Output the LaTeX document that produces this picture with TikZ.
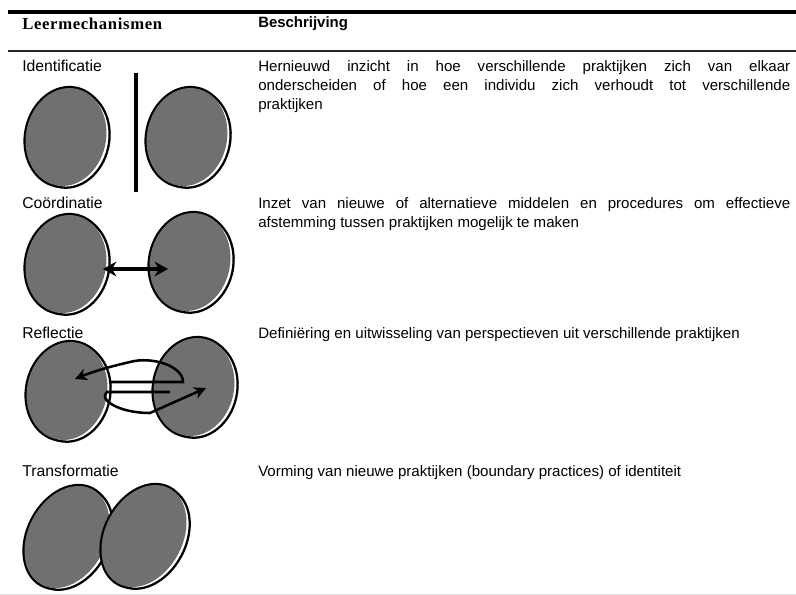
\documentclass[tikz,border=0pt]{standalone}
\usepackage{fontspec}
\setmainfont{Liberation Sans}
\newfontfamily\headfont[LetterSpace=4]{Liberation Serif}
\usepackage{tikz}
\usetikzlibrary{arrows.meta,shapes.geometric}
\definecolor{discgray}{RGB}{112,112,112}
\tikzset{
  disc/.style={ellipse, fill=discgray, inner sep=0pt,
    minimum width=60pt, minimum height=74pt, rotate=-12,
    preaction={draw=black, line width=3.2pt},
    preaction={draw=black, fill=white, line width=1.7pt, transform canvas={xshift=2.4pt,yshift=-1.3pt}}},
  talldisc/.style={disc, minimum width=58pt, minimum height=81pt, rotate=-16},
  lbl/.style={anchor=base west, inner sep=0pt, font=\fontsize{11.8}{13.9}\selectfont},
  desc/.style={anchor=base west, inner sep=0pt, font=\fontsize{11.3}{13.9}\selectfont,
    text width=399pt, align=justify},
  twoway/.style={line width=2.6pt, {Stealth[length=10pt,width=11pt]}-{Stealth[length=10pt,width=11pt]}},
  swirl/.style={line width=1.9pt, -{Stealth[length=9pt,width=9pt]}}
}

\begin{document}
\begin{tikzpicture}[x=0.75pt,y=-0.75pt]
  \useasboundingbox (0,0) rectangle (796,595);
  % table rules
  \draw[line width=2.3pt] (8,12) -- (796,12);
  \draw[line width=1.4pt, black!85] (8,51) -- (796,51);
  \draw[line width=0.8pt, black!12] (0,594.5) -- (796,594.5);

  % header
  \node[anchor=base west, inner sep=0pt, font=\headfont\bfseries\fontsize{12.5}{14}\selectfont] (hmech) at (22,30) {Leermechanismen};
  \node[anchor=base west, inner sep=0pt, font=\bfseries\fontsize{11.2}{13}\selectfont] (hdesc) at (258,28) {Beschrijving};

  % identificatie
  \node[lbl] (lid) at (22,72) {Identificatie};
  \node[desc] (did) at (258,72) {Hernieuwd inzicht in hoe verschillende praktijken zich van elkaar\linebreak
    onderscheiden of hoe een individu zich verhoudt tot verschillende\linebreak praktijken};
  \node[disc] (id1) at (66,137) {};
  \node[disc] (id2) at (187,137) {};
  \coordinate (bartop) at (136,73);
  \coordinate (barbot) at (136,192);
  \draw[line width=3pt] (bartop) -- (barbot);

  % coordinatie
  \node[lbl] (lco) at (22,209) {Co\"ordinatie};
  \node[desc] (dco) at (258,209) {Inzet van nieuwe of alternatieve middelen en procedures om effectieve\linebreak
    afstemming tussen praktijken mogelijk te maken};
  \node[disc] (co1) at (66,264) {};
  \node[disc] (co2) at (190,262) {};
  \coordinate (cleft) at (103,269);
  \coordinate (cright) at (168,269);
  \draw[twoway] (cleft) -- (cright);

  % reflectie
  \node[lbl] (lre) at (22,339) {Reflectie};
  \node[desc] (dre) at (258,339) {Defini\"ering en uitwisseling van perspectieven uit verschillende praktijken};
  \node[disc] (re1) at (67,391) {};
  \node[disc] (re2) at (194,387) {};
  \coordinate (ra) at (110,382);
  \coordinate (rb) at (183,382);
  \coordinate (rc) at (75,379);
  \coordinate (rd) at (170,392);
  \coordinate (re) at (107,392);
  \coordinate (rf) at (206,388);
  \draw[swirl] (ra) -- (rb) .. controls (183,366) and (152,356) .. (130,362)
    .. controls (108,367) and (92,372) .. (rc);
  \draw[swirl] (rd) -- (re) .. controls (98,399) and (118,413) .. (150,413) -- (rf);

  % transformatie
  \node[lbl] (ltr) at (22,476) {Transformatie};
  \node[desc] (dtr) at (258,476) {Vorming van nieuwe praktijken (boundary practices) of identiteit};
  \node[talldisc] (tr1) at (67,537) {};
  \node[talldisc] (tr2) at (144,536) {};
\end{tikzpicture}
\end{document}
